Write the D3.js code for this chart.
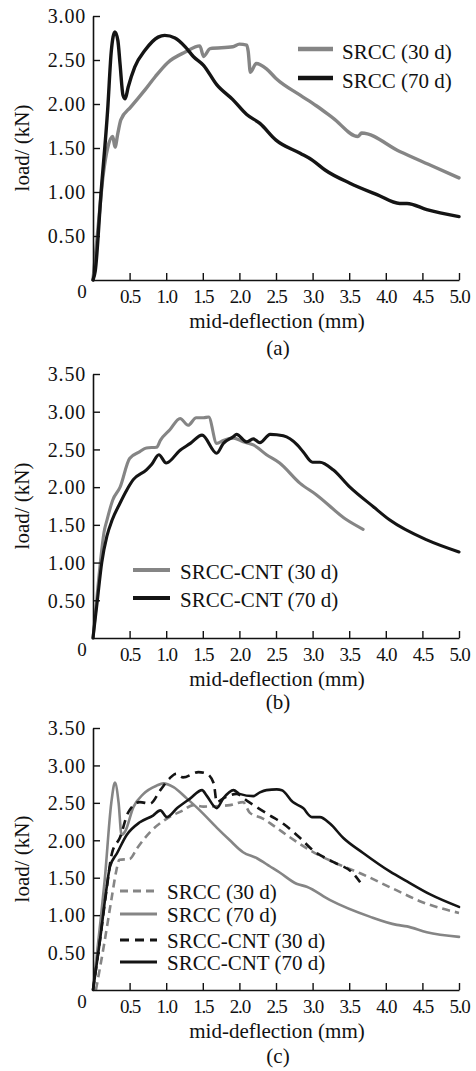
<!DOCTYPE html>
<html><head><meta charset="utf-8">
<script src="https://cdn.jsdelivr.net/npm/d3@7"></script>
<style>
html,body{margin:0;padding:0;background:#fff;}
svg{display:block;}
text{font-family:"Liberation Serif","Times New Roman",serif;fill:#111;}
</style></head>
<body>
<svg id="chart" width="476" height="1071"></svg>
<script>
// ---------- DATA ----------
const xTickValues = [0.5,1.0,1.5,2.0,2.5,3.0,3.5,4.0,4.5,5.0];
const yTicksA = [0.5,1.0,1.5,2.0,2.5,3.0];
const yTicksBC = [0.5,1.0,1.5,2.0,2.5,3.0,3.5];
const xLabel = "mid-deflection (mm)";
const yLabel = "load/ (kN)";

// Panel (a)
const aSrcc30X = [0,0.07,0.14,0.2,0.27,0.3,0.34,0.38,0.52,0.71,0.85,1.02,1.26,1.46,1.51,1.6,1.91,2.0,2.1,2.12,2.15,2.23,2.37,2.5,2.83,3.05,3.28,3.62,3.67,4.19,4.65,5.0];
const aSrcc30Y = [0,0.6,1.2,1.5,1.63,1.51,1.67,1.82,1.97,2.16,2.31,2.47,2.59,2.66,2.54,2.63,2.65,2.68,2.67,2.6,2.36,2.46,2.40,2.29,2.10,1.98,1.84,1.63,1.67,1.46,1.29,1.16];
const aSrcc70X = [0,0.03,0.11,0.2,0.25,0.3,0.34,0.37,0.41,0.44,0.48,0.57,0.71,0.89,0.98,1.12,1.26,1.37,1.51,1.69,1.91,2.1,2.28,2.5,2.83,3.0,3.17,3.51,3.88,4.19,4.29,4.56,5.0];
const aSrcc70Y = [0,0.1,0.99,1.93,2.6,2.82,2.72,2.45,2.1,2.06,2.19,2.42,2.61,2.76,2.78,2.75,2.65,2.54,2.44,2.22,2.05,1.88,1.78,1.59,1.44,1.36,1.25,1.10,0.97,0.87,0.87,0.80,0.72];

// Panel (b)
const bCnt30X = [0,0.05,0.1,0.15,0.19,0.27,0.37,0.5,0.64,0.73,0.87,0.92,1.05,1.19,1.3,1.41,1.51,1.58,1.69,1.78,1.92,2.05,2.19,2.37,2.55,2.83,3.05,3.46,3.69];
const bCnt30Y = [0,0.5,1.0,1.4,1.56,1.83,2.0,2.38,2.47,2.52,2.53,2.62,2.76,2.91,2.82,2.92,2.92,2.93,2.58,2.62,2.65,2.6,2.56,2.43,2.32,2.05,1.9,1.57,1.44];
const bCnt70X = [0,0.06,0.12,0.19,0.26,0.37,0.46,0.55,0.73,0.8,0.9,1.0,1.19,1.33,1.49,1.69,1.78,1.92,1.96,2.1,2.19,2.28,2.42,2.6,2.79,2.87,3.0,3.1,3.28,3.51,3.83,4.06,4.56,5.0];
const bCnt70Y = [0,0.5,1.0,1.35,1.56,1.79,1.96,2.1,2.23,2.3,2.43,2.32,2.49,2.58,2.69,2.45,2.58,2.67,2.70,2.6,2.64,2.59,2.70,2.68,2.56,2.47,2.33,2.33,2.23,2.0,1.74,1.56,1.30,1.14];

// Panel (c)
const cSrcc30X = [0.04,0.15,0.25,0.32,0.36,0.5,0.6,0.78,1.01,1.23,1.37,1.51,1.87,2.05,2.14,2.32,2.46,2.69,2.96,3.33,3.65,4.15,4.51,5.0];
const cSrcc30Y = [0,0.6,1.2,1.6,1.74,1.75,1.89,2.11,2.29,2.4,2.47,2.45,2.47,2.51,2.37,2.29,2.20,2.04,1.87,1.69,1.56,1.33,1.17,1.03];
const cSrcc70X = [0,0.1,0.16,0.25,0.3,0.35,0.39,0.44,0.55,0.69,0.87,0.96,1.1,1.28,1.46,1.69,1.87,2.05,2.24,2.42,2.55,2.78,2.92,3.24,3.78,4.15,4.29,4.56,5.0];
const cSrcc70Y = [0,0.9,1.47,2.5,2.77,2.5,2.07,2.12,2.44,2.62,2.73,2.76,2.71,2.56,2.4,2.17,2.0,1.84,1.76,1.65,1.57,1.42,1.38,1.2,0.98,0.87,0.85,0.77,0.71];
const cCnt30X = [0,0.1,0.18,0.26,0.37,0.48,0.64,0.78,0.92,1.05,1.14,1.23,1.44,1.55,1.65,1.69,1.78,1.96,2.1,2.24,2.42,2.6,2.83,3.0,3.28,3.55,3.65];
const cCnt30Y = [0,0.7,1.3,1.83,2.04,2.37,2.51,2.49,2.67,2.83,2.89,2.84,2.91,2.89,2.76,2.51,2.56,2.62,2.53,2.44,2.33,2.22,2.03,1.87,1.71,1.56,1.44];
const cCnt70X = [0,0.1,0.17,0.23,0.33,0.46,0.64,0.82,0.92,1.01,1.15,1.33,1.49,1.55,1.69,1.78,1.92,2.0,2.19,2.28,2.37,2.51,2.58,2.73,2.87,2.99,3.1,3.24,3.42,3.69,4.06,4.29,4.6,5.0];
const cCnt70Y = [0,0.7,1.25,1.64,1.83,2.07,2.24,2.33,2.4,2.31,2.43,2.56,2.67,2.6,2.43,2.56,2.67,2.62,2.59,2.64,2.67,2.68,2.67,2.51,2.43,2.31,2.31,2.22,2.03,1.83,1.58,1.45,1.28,1.11];

const seriesA = [
  {name:"SRCC (30 d)", xs:aSrcc30X, ys:aSrcc30Y, style:"gray"},
  {name:"SRCC (70 d)", xs:aSrcc70X, ys:aSrcc70Y, style:"black"}
];
const seriesB = [
  {name:"SRCC-CNT (30 d)", xs:bCnt30X, ys:bCnt30Y, style:"gray"},
  {name:"SRCC-CNT (70 d)", xs:bCnt70X, ys:bCnt70Y, style:"black"}
];
const seriesC = [
  {name:"SRCC (30 d)", xs:cSrcc30X, ys:cSrcc30Y, style:"grayDash"},
  {name:"SRCC (70 d)", xs:cSrcc70X, ys:cSrcc70Y, style:"gray"},
  {name:"SRCC-CNT (30 d)", xs:cCnt30X, ys:cCnt30Y, style:"blackDash"},
  {name:"SRCC-CNT (70 d)", xs:cCnt70X, ys:cCnt70Y, style:"black"}
];

// ---------- STYLES / LAYOUT ----------
const GRAY = "#858585", BLACK = "#141414";
const styles = {
  gray:{color:GRAY, dash:null},
  black:{color:BLACK, dash:null},
  grayDash:{color:GRAY, dash:"8,5"},
  blackDash:{color:BLACK, dash:"9,6"}
};

const panels = [
  {top:16, bottom:280, ymax:3.0, yticks:yTicksA, caption:"(a)", titleY:328, capY:355, ylabY:148,
   lw:3.4, series:seriesA, leg:{x1:298,x2:333,tx:342,ys:[49,78],dy:10,lw:4.5}},
  {top:374, bottom:638, ymax:3.5, yticks:yTicksBC, caption:"(b)", titleY:686, capY:709, ylabY:506,
   lw:3.1, series:seriesB, leg:{x1:133,x2:170,tx:180,ys:[570,598],dy:8.5,lw:4.2}},
  {top:728, bottom:990, ymax:3.5, yticks:yTicksBC, caption:"(c)", titleY:1038, capY:1063, ylabY:859,
   lw:2.6, series:seriesC, leg:{x1:120,x2:157,tx:167,ys:[891,914,940,962],dy:7.5,lw:3.2}}
];

const svg = d3.select("#chart");
svg.append("rect").attr("width",476).attr("height",1071).attr("fill","#fff");

const x = d3.scaleLinear().domain([0,5]).range([93,459]);

panels.forEach(p => {
  const y = d3.scaleLinear().domain([0,p.ymax]).range([p.bottom,p.top]);
  const g = svg.append("g");

  // curves
  const line = d3.line().x(d=>x(d[0])).y(d=>y(d[1])).curve(d3.curveMonotoneX);
  p.series.forEach(s => {
    const st = styles[s.style];
    const pts = s.xs.map((v,i)=>[v, s.ys[i]]);
    g.append("path").datum(pts)
      .attr("d", line)
      .attr("fill","none")
      .attr("stroke", st.color)
      .attr("stroke-width", p.lw)
      .attr("stroke-linejoin","round")
      .attr("stroke-linecap", st.dash ? "butt" : "round")
      .attr("stroke-dasharray", st.dash);
  });

  // x axis
  const xa = g.append("g").attr("transform",`translate(0,${p.bottom})`)
    .call(d3.axisBottom(x).tickValues(xTickValues).tickFormat(d3.format(".1f"))
      .tickSizeInner(-7).tickSizeOuter(0).tickPadding(0));
  xa.select(".domain").attr("stroke","#111").attr("stroke-width",1.6);
  xa.selectAll(".tick line").attr("stroke","#111").attr("stroke-width",1.4);
  xa.selectAll(".tick text").attr("y",23).attr("dy",null)
    .attr("font-size",19).attr("letter-spacing","-1.2px").attr("fill","#111")
    .attr("font-family","Liberation Serif, Times New Roman, serif");

  // y axis
  const ya = g.append("g").attr("transform",`translate(93,0)`)
    .call(d3.axisLeft(y).tickValues(p.yticks).tickFormat(d3.format(".2f"))
      .tickSizeInner(-7).tickSizeOuter(0).tickPadding(6));
  ya.select(".domain").attr("stroke","#111").attr("stroke-width",1.6);
  ya.selectAll(".tick line").attr("stroke","#111").attr("stroke-width",1.4);
  ya.selectAll(".tick text").attr("x",-7).attr("dy","0.34em")
    .attr("font-size",20).attr("letter-spacing","0.8px").attr("fill","#111")
    .attr("font-family","Liberation Serif, Times New Roman, serif");

  // origin label
  g.append("text").attr("x",82).attr("y",p.bottom+18).attr("text-anchor","middle")
    .attr("font-size",19).text("0");

  // axis titles
  g.append("text").attr("x",277).attr("y",p.titleY).attr("text-anchor","middle")
    .attr("font-size",21).text(xLabel);
  g.append("text").attr("x",278).attr("y",p.capY).attr("text-anchor","middle")
    .attr("font-size",21).text(p.caption);
  g.append("text").attr("transform",`translate(29,${p.ylabY}) rotate(-90)`)
    .attr("text-anchor","middle").attr("font-size",21).text(yLabel);

  // legend
  p.series.forEach((s,i) => {
    const st = styles[s.style];
    const ly = p.leg.ys[i];
    g.append("line").attr("x1",p.leg.x1).attr("x2",p.leg.x2).attr("y1",ly).attr("y2",ly)
      .attr("stroke",st.color).attr("stroke-width",p.leg.lw)
      .attr("stroke-dasharray", st.dash);
    g.append("text").attr("x",p.leg.tx).attr("y",ly+p.leg.dy)
      .attr("font-size",21).text(s.name);
  });
});
</script>
</body></html>
